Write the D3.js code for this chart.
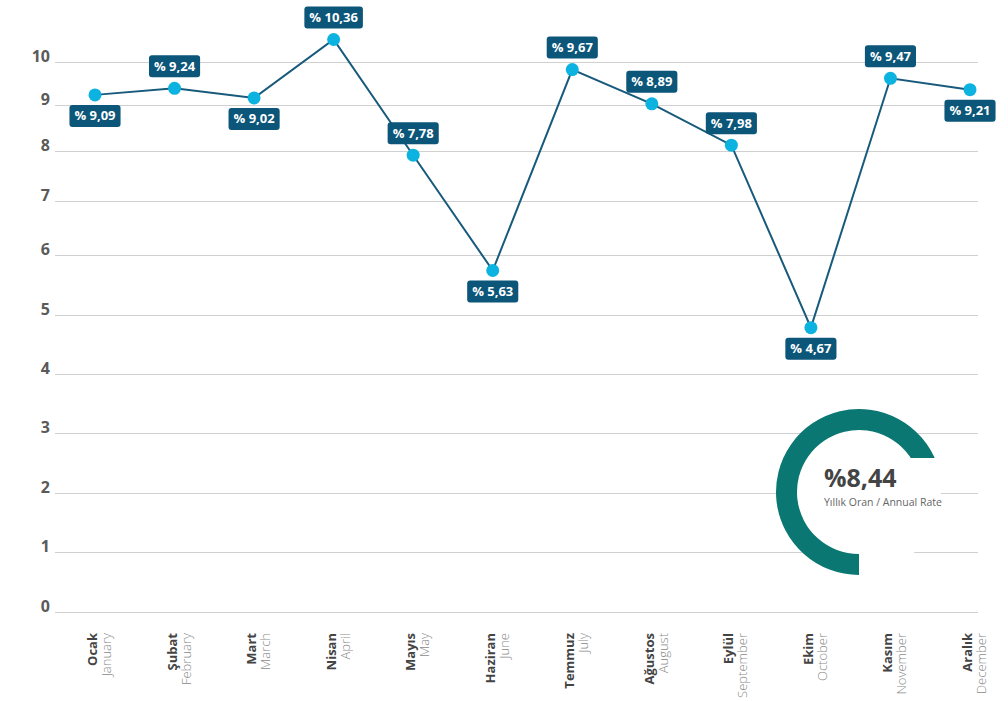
<!DOCTYPE html>
<html>
<head>
<meta charset="utf-8">
<script src="https://cdn.jsdelivr.net/npm/d3@7"></script>
<style>
  body { margin: 0; background: #fff; }
  text { font-family: "Open Sans", sans-serif; }
</style>
</head>
<body>
<div id="chart"></div>
<script>
// data
var months   = ["Ocak", "Şubat", "Mart", "Nisan", "Mayıs", "Haziran",
                "Temmuz", "Ağustos", "Eylül", "Ekim", "Kasım", "Aralık"];
var monthsEn = ["January", "February", "March", "April", "May", "June",
                "July", "August", "September", "October", "November", "December"];
var rates    = [9.09, 9.24, 9.02, 10.36, 7.78, 5.63, 9.67, 8.89, 7.98, 4.67, 9.47, 9.21];
var yTicks   = [0, 1, 2, 3, 4, 5, 6, 7, 8, 9, 10];
var annualRate = 8.44;
var annualLabel = "Yıllık Oran / Annual Rate";

var w = 1008, h = 701;

var svg = d3.select("#chart").append("svg")
    .attr("width", w)
    .attr("height", h);

// x: one point per month
var x = d3.scalePoint()
    .domain(months)
    .range([95, 970]);

// the original y axis is not evenly spaced above 5, so use a polylinear scale
var gridStops = [612.3, 552.3, 492.7, 433.3, 374, 314.5, 255, 200.7, 150.7, 105.3, 61.7];
var y = d3.scaleLinear()
    .domain(yTicks)
    .range(gridStops);
// markers sit a little above the grid in the original
var yPt = d3.scaleLinear()
    .domain(yTicks)
    .range(gridStops.map(function(d) { return d - 6.5; }));

var fmt = function(d) { return "% " + d.toFixed(2).replace(".", ","); };

// gridlines + tick labels
var grid = svg.append("g");
grid.selectAll("line")
    .data(yTicks)
    .enter()
    .append("line")
    .attr("x1", 55)
    .attr("x2", 978)
    .attr("y1", function(d) { return Math.round(y(d)) + 0.5; })
    .attr("y2", function(d) { return Math.round(y(d)) + 0.5; })
    .attr("stroke", "#d0d0d0")
    .attr("stroke-width", 1);

grid.selectAll("text")
    .data(yTicks)
    .enter()
    .append("text")
    .text(function(d) { return d; })
    .attr("x", 50)
    .attr("y", function(d) { return y(d); })
    .attr("text-anchor", "end")
    .attr("font-size", "16px")
    .attr("font-weight", "bold")
    .attr("fill", "#5a5a5a");

// month labels (rotated)
var xl = svg.append("g").selectAll("g")
    .data(months)
    .enter()
    .append("g")
    .attr("transform", function(d) { return "translate(" + x(d) + ",633) rotate(-90)"; });

xl.append("text")
    .text(function(d) { return d; })
    .attr("x", 0)
    .attr("y", 2)
    .attr("text-anchor", "end")
    .attr("font-size", "13px")
    .attr("font-weight", "bold")
    .attr("fill", "#444");

xl.append("text")
    .text(function(d, i) { return monthsEn[i]; })
    .attr("x", 0)
    .attr("y", 16)
    .attr("text-anchor", "end")
    .attr("font-size", "13px")
    .attr("font-weight", "300")
    .attr("fill", "#8a8a8a");

// annual rate ring
var cx = 859, cy = 492;
var ring = svg.append("g").attr("transform", "translate(" + cx + "," + cy + ")");
ring.append("circle")
    .attr("r", 82)
    .attr("fill", "#fff");

var clip = svg.append("defs").append("clipPath").attr("id", "ringClip");
clip.append("rect").attr("x", -100).attr("y", -100).attr("width", 100).attr("height", 200);
clip.append("rect").attr("x", 0).attr("y", -100).attr("width", 100).attr("height", 66);

var arc = d3.arc()
    .innerRadius(62)
    .outerRadius(83)
    .startAngle(Math.PI)
    .endAngle(2 * Math.PI + 70 * Math.PI / 180);
ring.append("path")
    .attr("d", arc())
    .attr("clip-path", "url(#ringClip)")
    .attr("fill", "#0a7772");

ring.append("text")
    .text("%" + annualRate.toFixed(2).replace(".", ","))
    .attr("x", -35)
    .attr("y", -5)
    .attr("font-size", "25px")
    .attr("font-weight", "bold")
    .attr("fill", "#444");

ring.append("text")
    .text(annualLabel)
    .attr("x", -35)
    .attr("y", 14)
    .attr("font-size", "10.5px")
    .attr("fill", "#666");

// line
var line = d3.line()
    .x(function(d, i) { return x(months[i]); })
    .y(function(d) { return yPt(d); });

svg.append("path")
    .datum(rates)
    .attr("d", line)
    .attr("fill", "none")
    .attr("stroke", "#175a7c")
    .attr("stroke-width", 2);

svg.append("g").selectAll("circle")
    .data(rates)
    .enter()
    .append("circle")
    .attr("cx", function(d, i) { return x(months[i]); })
    .attr("cy", function(d) { return yPt(d); })
    .attr("r", 6.5)
    .attr("fill", "#0cb3e0");

// value labels: below local minima, above otherwise
function isBelow(i) {
    var v = rates[i];
    var prev = i > 0 ? rates[i - 1] : Infinity;
    var next = i < rates.length - 1 ? rates[i + 1] : Infinity;
    return v < prev && v < next;
}

var lab = svg.append("g").selectAll("g")
    .data(rates)
    .enter()
    .append("g")
    .attr("transform", function(d, i) {
        var dy = isBelow(i) ? 21 : -22;
        return "translate(" + x(months[i]) + "," + (yPt(d) + dy) + ")";
    });

lab.append("rect")
    .attr("fill", "#0b5679")
    .attr("rx", 3);

lab.append("text")
    .text(function(d) { return fmt(d); })
    .attr("text-anchor", "middle")
    .attr("y", 4.5)
    .attr("font-size", "13px")
    .attr("font-weight", "bold")
    .attr("fill", "#fff");

lab.each(function() {
    var g = d3.select(this);
    var tw = g.select("text").node().getComputedTextLength();
    g.select("rect")
        .attr("x", -tw / 2 - 5)
        .attr("y", -11)
        .attr("width", tw + 10)
        .attr("height", 22);
});
</script>
</body>
</html>
